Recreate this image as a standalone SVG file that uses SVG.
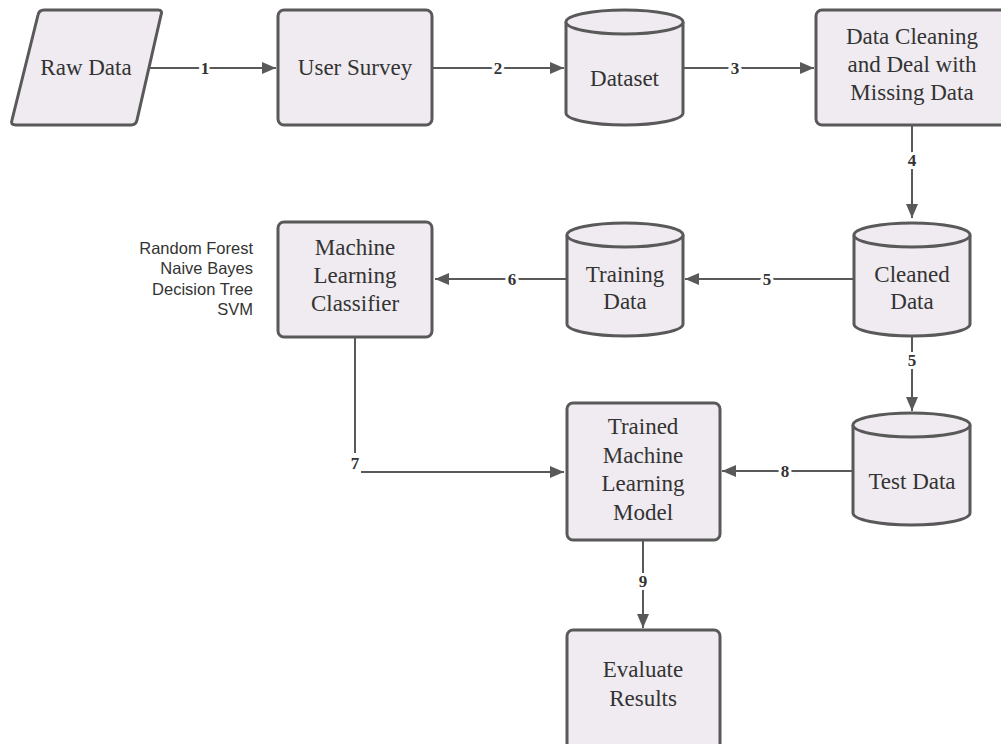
<svg xmlns="http://www.w3.org/2000/svg" width="1001" height="744" viewBox="0 0 1001 744">
  <style>
    .shape { fill: #efebf0; stroke: #595959; stroke-width: 3; stroke-linejoin: round; }
    .lbl { font-family: "Liberation Serif", "Times New Roman", serif; font-size: 23px; fill: #333; text-anchor: middle; }
    .edge { fill: none; stroke: #595959; stroke-width: 2; }
    .num { font-family: "Liberation Serif", "Times New Roman", serif; font-size: 17px; font-weight: bold; fill: #333; text-anchor: middle; stroke: #fff; stroke-width: 6; paint-order: stroke; }
    .note { font-family: "Liberation Sans", Arial, sans-serif; font-size: 16.5px; fill: #333; text-anchor: end; }
  </style>
  <defs>
    <marker id="arrow" markerUnits="userSpaceOnUse" markerWidth="16" markerHeight="14" refX="14" refY="6" orient="auto">
      <path d="M0,0 L14,6 L0,12 z" fill="#595959"/>
    </marker>
  </defs>
  <rect width="1001" height="744" fill="#fff"/>

  <!-- connectors -->
  <g id="connectors">
    <line class="edge" x1="148" y1="68" x2="276" y2="68" marker-end="url(#arrow)"/>
    <line class="edge" x1="432" y1="68" x2="564" y2="68" marker-end="url(#arrow)"/>
    <line class="edge" x1="683" y1="68" x2="814" y2="68" marker-end="url(#arrow)"/>
    <line class="edge" x1="912" y1="125" x2="912" y2="218" marker-end="url(#arrow)"/>
    <line class="edge" x1="854" y1="279" x2="685" y2="279" marker-end="url(#arrow)"/>
    <line class="edge" x1="567" y1="279" x2="435" y2="279" marker-end="url(#arrow)"/>
    <line class="edge" x1="912" y1="336" x2="912" y2="411" marker-end="url(#arrow)"/>
    <line class="edge" x1="355" y1="337" x2="355" y2="453"/>
    <line class="edge" x1="361" y1="472" x2="564" y2="472" marker-end="url(#arrow)"/>
    <line class="edge" x1="853" y1="471" x2="722" y2="471" marker-end="url(#arrow)"/>
    <line class="edge" x1="643" y1="540" x2="643" y2="628" marker-end="url(#arrow)"/>

    <text class="num" x="205" y="74">1</text>
    <text class="num" x="498" y="74">2</text>
    <text class="num" x="735" y="74">3</text>
    <text class="num" x="912" y="166">4</text>
    <text class="num" x="767" y="285">5</text>
    <text class="num" x="512" y="285">6</text>
    <text class="num" x="912" y="366">5</text>
    <text class="num" x="355" y="469">7</text>
    <text class="num" x="785" y="477">8</text>
    <text class="num" x="643" y="587">9</text>
  </g>

  <!-- nodes -->
  <g id="raw-data">
    <path class="shape" d="M44,10 H158 Q163,10 161,15 L137,120 Q136,125 131,125 H16 Q10,125 12,120 L38,15 Q39,10 44,10 Z"/>
    <text class="lbl" x="86" y="75">Raw Data</text>
  </g>

  <g id="user-survey">
    <rect class="shape" x="278" y="10" width="154" height="115" rx="6"/>
    <text class="lbl" x="355" y="75">User Survey</text>
  </g>

  <g id="dataset">
    <path class="shape" d="M566,22 A58.5,12 0 0,1 683,22 V113 A58.5,12 0 0,1 566,113 Z"/>
    <path class="shape" fill="none" d="M566,22 A58.5,12 0 0,0 683,22"/>
    <text class="lbl" x="624.5" y="86">Dataset</text>
  </g>

  <g id="data-cleaning">
    <rect class="shape" x="816" y="10" width="190" height="115" rx="6"/>
    <text class="lbl" x="912" y="44">Data Cleaning</text>
    <text class="lbl" x="912" y="72">and Deal with</text>
    <text class="lbl" x="912" y="100">Missing Data</text>
  </g>

  <g id="cleaned-data">
    <path class="shape" d="M854,235 A58,12 0 0,1 970,235 V324 A58,12 0 0,1 854,324 Z"/>
    <path class="shape" fill="none" d="M854,235 A58,12 0 0,0 970,235"/>
    <text class="lbl" x="912" y="282">Cleaned</text>
    <text class="lbl" x="912" y="309">Data</text>
  </g>

  <g id="training-data">
    <path class="shape" d="M567,235 A58,12 0 0,1 683,235 V324 A58,12 0 0,1 567,324 Z"/>
    <path class="shape" fill="none" d="M567,235 A58,12 0 0,0 683,235"/>
    <text class="lbl" x="625" y="282">Training</text>
    <text class="lbl" x="625" y="309">Data</text>
  </g>

  <g id="ml-classifier">
    <rect class="shape" x="278" y="222" width="154" height="115" rx="6"/>
    <text class="lbl" x="355" y="255">Machine</text>
    <text class="lbl" x="355" y="283">Learning</text>
    <text class="lbl" x="355" y="311">Classifier</text>
  </g>

  <g id="classifier-list">
    <text class="note" x="253" y="254">Random Forest</text>
    <text class="note" x="253" y="274">Naive Bayes</text>
    <text class="note" x="253" y="295">Decision Tree</text>
    <text class="note" x="253" y="315">SVM</text>
  </g>

  <g id="test-data">
    <path class="shape" d="M853,425 A58.5,12 0 0,1 970,425 V513 A58.5,12 0 0,1 853,513 Z"/>
    <path class="shape" fill="none" d="M853,425 A58.5,12 0 0,0 970,425"/>
    <text class="lbl" x="912" y="489">Test Data</text>
  </g>

  <g id="trained-model">
    <rect class="shape" x="567" y="403" width="153" height="137" rx="6"/>
    <text class="lbl" x="643" y="434">Trained</text>
    <text class="lbl" x="643" y="463">Machine</text>
    <text class="lbl" x="643" y="491">Learning</text>
    <text class="lbl" x="643" y="520">Model</text>
  </g>

  <g id="evaluate-results">
    <rect class="shape" x="567" y="630" width="153" height="125" rx="6"/>
    <text class="lbl" x="643" y="677">Evaluate</text>
    <text class="lbl" x="643" y="706">Results</text>
  </g>
</svg>
